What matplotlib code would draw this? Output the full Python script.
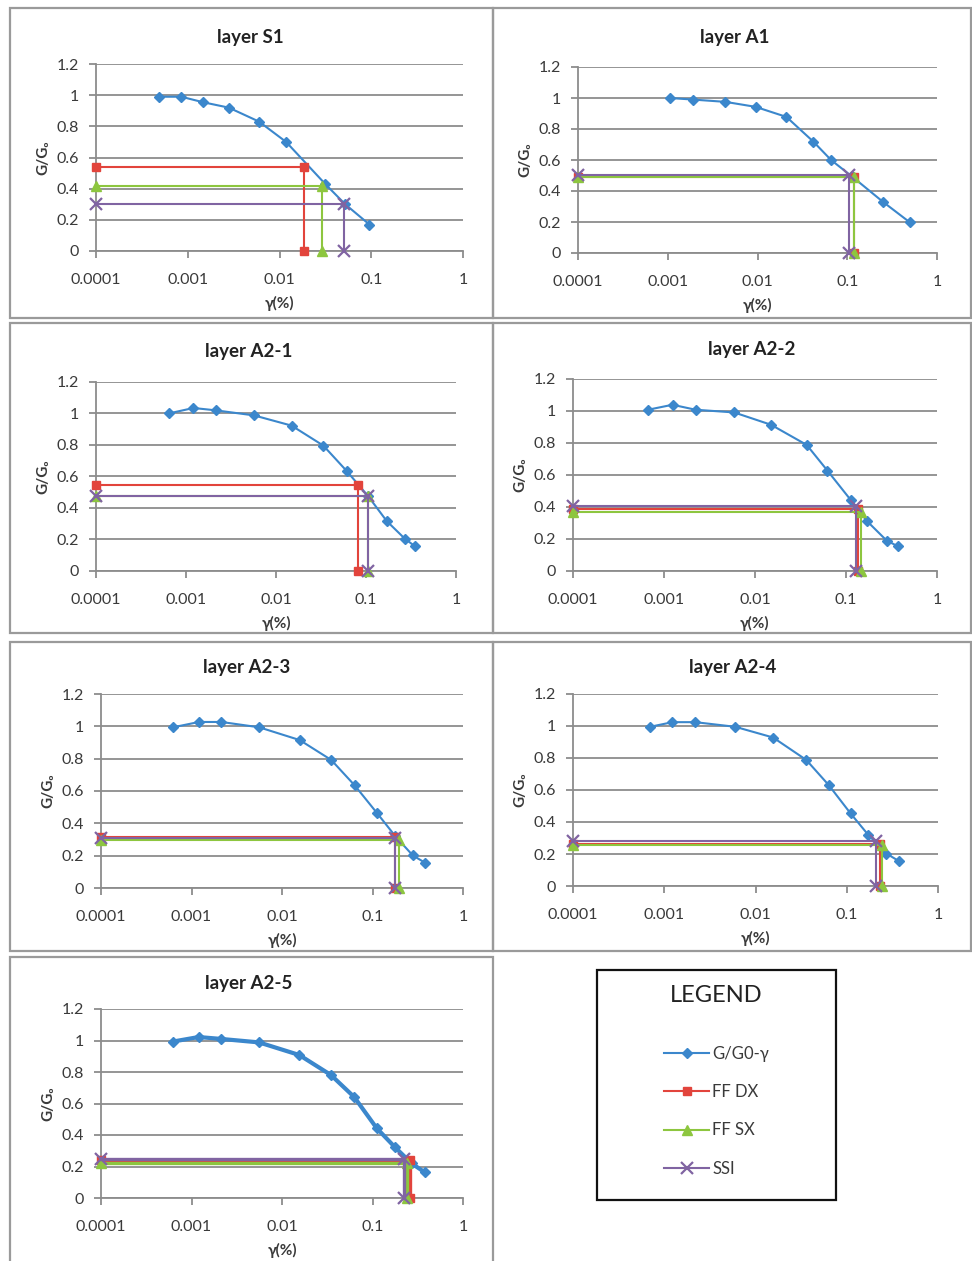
import matplotlib
matplotlib.use("Agg")
import matplotlib.pyplot as plt
from matplotlib.patches import Rectangle

plt.rcParams['font.family'] = ['Lato', 'DejaVu Sans']

# ---------------- data ----------------
layers = ["layer S1", "layer A1", "layer A2-1", "layer A2-2", "layer A2-3", "layer A2-4", "layer A2-5"]

gamma_S1 = [4.8e-4, 8.5e-4, 1.46e-3, 2.8e-3, 6.0e-3, 0.0118, 0.0315, 0.052, 0.0955]
ratio_S1 = [0.99, 0.99, 0.955, 0.92, 0.83, 0.70, 0.43, 0.30, 0.17]

gamma_A1 = [1.05e-3, 1.9e-3, 4.4e-3, 9.5e-3, 0.021, 0.042, 0.066, 0.115, 0.25, 0.50]
ratio_A1 = [1.0, 0.99, 0.975, 0.943, 0.878, 0.718, 0.60, 0.49, 0.33, 0.197]

gamma_A2_1 = [6.4e-4, 1.21e-3, 2.15e-3, 5.7e-3, 0.0149, 0.0336, 0.061, 0.106, 0.17, 0.27, 0.35]
ratio_A2_1 = [1.0, 1.035, 1.02, 0.988, 0.923, 0.796, 0.635, 0.474, 0.317, 0.205, 0.157]

gamma_A2_2 = [6.7e-4, 1.24e-3, 2.22e-3, 5.9e-3, 0.015, 0.037, 0.0626, 0.113, 0.17, 0.28, 0.37]
ratio_A2_2 = [1.008, 1.039, 1.008, 0.991, 0.914, 0.788, 0.627, 0.443, 0.312, 0.19, 0.155]

gamma_A2_3 = [6.25e-4, 1.21e-3, 2.14e-3, 5.6e-3, 0.0157, 0.035, 0.0635, 0.112, 0.179, 0.278, 0.384]
ratio_A2_3 = [0.994, 1.027, 1.027, 0.994, 0.915, 0.792, 0.635, 0.464, 0.32, 0.202, 0.155]

gamma_A2_4 = [7.0e-4, 1.23e-3, 2.19e-3, 6.0e-3, 0.0156, 0.036, 0.0634, 0.110, 0.173, 0.272, 0.374]
ratio_A2_4 = [0.995, 1.024, 1.024, 0.995, 0.928, 0.788, 0.631, 0.454, 0.318, 0.203, 0.155]

gamma_A2_5 = [6.2e-4, 1.2e-3, 2.12e-3, 5.57e-3, 0.0155, 0.0347, 0.0628, 0.111, 0.176, 0.27, 0.378]
ratio_A2_5 = [0.993, 1.022, 1.01, 0.988, 0.908, 0.781, 0.641, 0.444, 0.324, 0.22, 0.163]

# crossing points per layer (gamma, G/G0)
ffdx_gamma = [0.0183, 0.118, 0.082, 0.135, 0.179, 0.233, 0.262]
ffdx_ratio = [0.54, 0.49, 0.545, 0.39, 0.315, 0.265, 0.243]
ffsx_gamma = [0.029, 0.119, 0.104, 0.145, 0.196, 0.245, 0.241]
ffsx_ratio = [0.415, 0.49, 0.475, 0.37, 0.295, 0.255, 0.222]
ssi_gamma = [0.051, 0.104, 0.104, 0.129, 0.179, 0.211, 0.222]
ssi_ratio = [0.30, 0.50, 0.478, 0.405, 0.31, 0.282, 0.248]

legend_labels = ["G/G0-γ", "FF DX", "FF SX", "SSI"]
x_ticks = [1e-4, 1e-3, 1e-2, 1e-1, 1]
x_ticklabels = ["0.0001", "0.001", "0.01", "0.1", "1"]
y_ticks = [0, 0.2, 0.4, 0.6, 0.8, 1.0, 1.2]
y_ticklabels = ["0", "0.2", "0.4", "0.6", "0.8", "1", "1.2"]
x_origin = 1e-4

curves_gamma = [gamma_S1, gamma_A1, gamma_A2_1, gamma_A2_2, gamma_A2_3, gamma_A2_4, gamma_A2_5]
curves_ratio = [ratio_S1, ratio_A1, ratio_A2_1, ratio_A2_2, ratio_A2_3, ratio_A2_4, ratio_A2_5]

# ---------------- style ----------------
W, H = 972, 1261
C_BLUE = "#3B87CC"
C_RED = "#E2443C"
C_GREEN = "#8DC63F"
C_PURPLE = "#8064A2"
GRID = "#8C8C8C"
TXT = "#3A3A3A"

# axes rectangles in pixels: left, top, right, bottom
ax_px = [
    (96, 64, 463, 251),
    (578, 67, 937, 253),
    (96, 382, 456, 571),
    (573, 379, 937, 571),
    (101, 694, 463, 888),
    (573, 694, 938, 886),
    (101, 1009, 463, 1198),
]
# title centres in pixels
title_px = [(250, 37), (735, 37), (249, 351), (752, 349), (247, 668), (733, 668), (249, 984)]

fig = plt.figure(figsize=(W / 100, H / 100), dpi=100)

# cell borders
cells = [
    (9.5, 8, 493, 318), (493, 8, 971, 318),
    (9.5, 323, 493, 633), (493, 323, 971, 633),
    (9.5, 642, 493, 951), (493, 642, 971, 951),
    (9.5, 957, 493, 1270),
]
for (l, t, r, b) in cells:
    fig.patches.append(Rectangle((l / W, 1 - b / H), (r - l) / W, (b - t) / H,
                                 transform=fig.transFigure, fill=False,
                                 edgecolor="#9A9A9A", lw=1.6, zorder=0))

handles = None
for i, (l, t, r, b) in enumerate(ax_px):
    ax = fig.add_axes([l / W, 1 - b / H, (r - l) / W, (b - t) / H])
    thick = (i == 6)
    lw_main = 3.0 if thick else 1.5
    lw_ref = 2.4 if thick else 1.5
    h1, = ax.plot(curves_gamma[i], curves_ratio[i], color=C_BLUE, lw=lw_main,
                  marker="D", ms=5.5, mfc=C_BLUE, mec=C_BLUE, zorder=3)
    h2, = ax.plot([x_origin, ffdx_gamma[i], ffdx_gamma[i]], [ffdx_ratio[i], ffdx_ratio[i], 0],
                  color=C_RED, lw=lw_ref, marker="s", ms=6, zorder=4, clip_on=False)
    h3, = ax.plot([x_origin, ffsx_gamma[i], ffsx_gamma[i]], [ffsx_ratio[i], ffsx_ratio[i], 0],
                  color=C_GREEN, lw=lw_ref, marker="^", ms=7, zorder=5, clip_on=False)
    h4, = ax.plot([x_origin, ssi_gamma[i], ssi_gamma[i]], [ssi_ratio[i], ssi_ratio[i], 0],
                  color=C_PURPLE, lw=lw_ref, marker="x", ms=8, mew=1.6, zorder=6, clip_on=False)
    if handles is None:
        handles = [h1, h2, h3, h4]
    ax.set_xscale("log")
    ax.set_xlim(1e-4, 1)
    ax.set_ylim(0, 1.2)
    ax.set_xticks(x_ticks)
    ax.set_xticklabels(x_ticklabels)
    ax.minorticks_off()
    ax.set_yticks(y_ticks)
    ax.set_yticklabels(y_ticklabels)
    ax.yaxis.grid(True, color=GRID, lw=1.3)
    ax.set_axisbelow(True)
    for s in ["top", "right"]:
        ax.spines[s].set_visible(False)
    for s in ["left", "bottom"]:
        ax.spines[s].set_color(GRID)
        ax.spines[s].set_linewidth(1.3)
    ax.tick_params(axis="both", direction="out", length=5, width=1.3, color=GRID,
                   labelsize=11.5, labelcolor=TXT)
    ax.tick_params(axis="x", pad=11)
    ax.tick_params(axis="y", pad=7)
    tx, ty = title_px[i]
    fig.text(tx / W, 1 - ty / H, layers[i], ha="center", va="center",
             fontsize=13.5, fontweight="bold", color="#222222")
    ax.set_xlabel("γ(%)", fontsize=11, fontweight="bold", color=TXT, labelpad=6)
    ax.set_ylabel("G/G₀", fontsize=11, fontweight="bold", color=TXT, labelpad=5)
    ax.patch.set_alpha(0)

# legend box
lb = (597, 970, 836, 1200)
fig.patches.append(Rectangle((lb[0] / W, 1 - lb[3] / H), (lb[2] - lb[0]) / W, (lb[3] - lb[1]) / H,
                             transform=fig.transFigure, fill=False, edgecolor="#111111", lw=1.6))
fig.text((lb[0] + lb[2]) / 2 / W, 1 - 995 / H, "LEGEND", ha="center", va="center",
         fontsize=17, color="#222222")
fig.legend(handles, legend_labels, loc="upper left",
           bbox_to_anchor=(664 / W, 1 - 1046 / H), frameon=False, fontsize=12,
           handlelength=2.7, handletextpad=0.2, labelspacing=1.33, borderpad=0,
           borderaxespad=0, labelcolor=TXT)

fig.savefig("out.png", dpi=100)
